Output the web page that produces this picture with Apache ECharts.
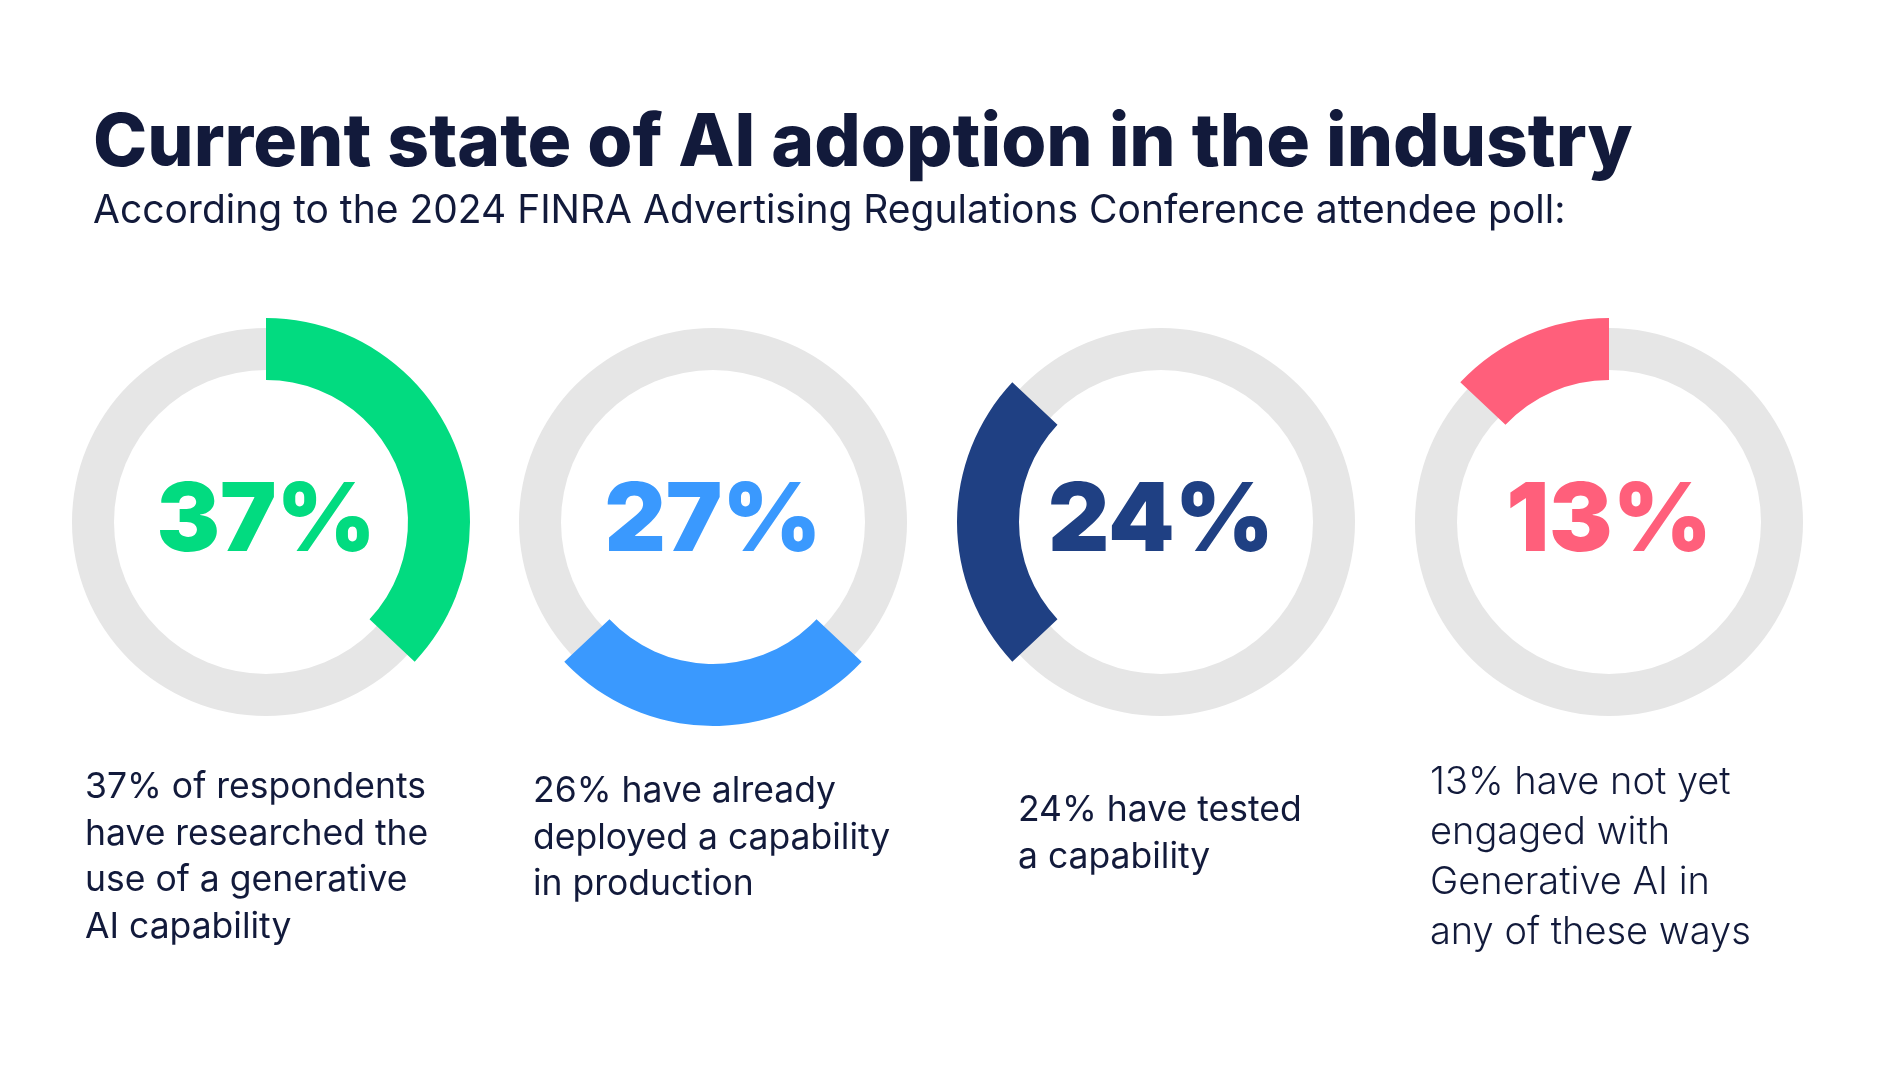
<!DOCTYPE html>
<html>
<head>
<meta charset="utf-8">
<script src="https://cdn.jsdelivr.net/npm/echarts@6/dist/echarts.min.js"></script>
<style>
html,body{margin:0;padding:0;background:#fff;}
#chart{width:1896px;height:1067px;}
</style>
</head>
<body>
<div id="chart"></div>
<script>
// ---- data ----
var titleText = 'Current state of AI adoption in the industry';
var subtitleText = 'According to the 2024 FINRA Advertising Regulations Conference attendee poll:';
var centerLabels = ['37%', '27%', '24%', '13%'];
var arcValues = [37, 26, 24, 13];           // arc lengths as drawn (percent of ring)
var arcCenterAngles = [66.6, 180, 270, 336.6]; // clockwise from 12 o'clock, where each arc is centred
var colors = ['#02db80', '#3a99fe', '#1f4083', '#ff5f7b'];
var descriptions = [
  '37% of respondents\nhave researched the\nuse of a generative\nAI capability',
  '26% have already\ndeployed a capability\nin production',
  '24% have tested\na capability',
  '13% have not yet\nengaged with\nGenerative AI in\nany of these ways'
];

// ---- layout ----
var FONT = 'Inter';
var centersX = [266, 713, 1161, 1609];
var centerY = 522;
var textColor = '#121a3b';
var descPos = [
  {x: 85, y: 764, lh: 46.7, size: 35.5, weight: 400},
  {x: 533, y: 768, lh: 46.7, size: 35.5, weight: 400},
  {x: 1018, y: 787, lh: 46.7, size: 35.5, weight: 400},
  {x: 1430, y: 757.5, lh: 50, size: 38, weight: 300}
];

var chart = echarts.init(document.getElementById('chart'), null, {renderer: 'canvas'});
var series = [];
centerLabels.forEach(function (lab, i) {
  var cx = centersX[i];
  series.push({
    type: 'pie', silent: true, center: [cx, centerY], radius: [152, 194],
    label: {show: false}, labelLine: {show: false}, animation: false,
    data: [{value: 100, itemStyle: {color: '#e6e6e6'}}]
  });
  var v = arcValues[i];
  var startCW = arcCenterAngles[i] - v * 1.8;
  series.push({
    type: 'pie', silent: true, center: [cx, centerY], radius: [142, 204],
    startAngle: 90 - startCW, clockwise: true, animation: false,
    labelLine: {show: false},
    data: [
      {value: v, itemStyle: {color: colors[i]},
       label: {show: true, position: 'center', formatter: lab, color: colors[i],
               fontFamily: FONT, fontWeight: 900, fontSize: 95, padding: [28, 0, 0, 0]}},
      {value: 100 - v, itemStyle: {color: 'rgba(0,0,0,0)'}, label: {show: false}}
    ]
  });
});

var graphics = [
  {type: 'text', left: 93, top: 108, style: {text: titleText, font: '800 73px ' + FONT, fill: textColor}},
  {type: 'text', left: 93, top: 192, style: {text: subtitleText, font: '400 39px ' + FONT, fill: textColor}}
];
descriptions.forEach(function (d, i) {
  var p = descPos[i];
  graphics.push({type: 'text', x: p.x, y: p.y,
    style: {text: d, font: p.weight + ' ' + p.size + 'px ' + FONT, fill: textColor,
            lineHeight: p.lh, verticalAlign: 'top'}});
});

chart.setOption({
  backgroundColor: '#ffffff',
  animation: false,
  series: series,
  graphic: graphics
});
</script>
</body>
</html>
